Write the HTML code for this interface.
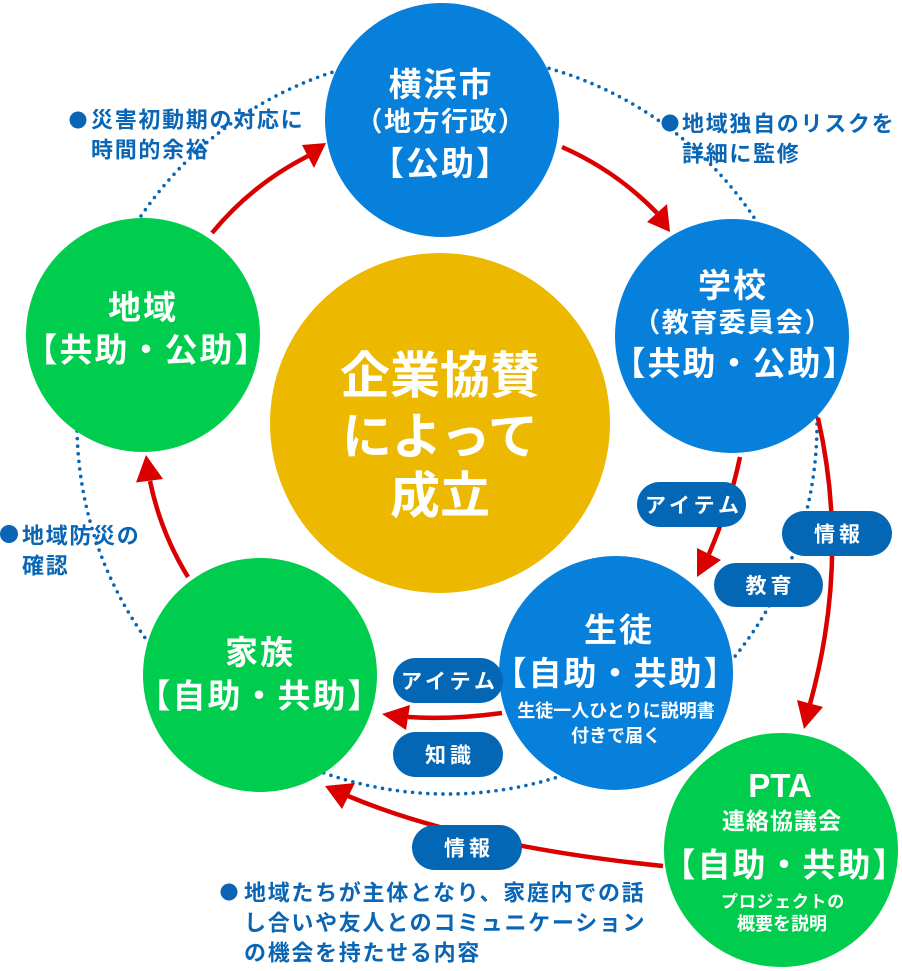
<!DOCTYPE html>
<html lang="ja">
<head>
<meta charset="utf-8">
<style>
  html,body{margin:0;padding:0;background:#fff;}
  body{width:902px;height:971px;overflow:hidden;}
  svg{display:block;}
  text{font-family:"Liberation Sans","Noto Sans CJK JP",sans-serif;font-weight:700;}
  .w{fill:#fff;}
  .b{fill:#0A66B4;}
</style>
</head>
<body>
<svg width="902" height="971" viewBox="0 0 902 971" xmlns="http://www.w3.org/2000/svg">
  <!-- dotted ring -->
  <circle cx="447" cy="424" r="370" fill="none" stroke="#0A66B4" stroke-width="3.6" stroke-linecap="round" stroke-dasharray="0 7.6"/>

  <!-- red connectors -->
  <g fill="none" stroke="#DA0000" stroke-width="4.5">
    <path d="M212,233 A300,300 0 0 1 308,156"/>
    <path d="M562,147 A300,300 0 0 1 657,213"/>
    <path d="M188,577 A298,298 0 0 1 150,481"/>
    <path d="M818,418 Q850,559 810,704"/>
    <path d="M740,457 Q730,505 709,554"/>
    <path d="M502,713 Q450,720 408,717"/>
    <path d="M663,866 Q467,846 348,796"/>
  </g>
  <g fill="#DA0000">
    <polygon points="326,143 302,145 314,168"/>
    <polygon points="670,232 647,222 667,204"/>
    <polygon points="146,455 163,479 136,482.5"/>
    <polygon points="804,729 797,700 823,707"/>
    <polygon points="697,577 697,548 721,560"/>
    <polygon points="382,714 410,705 406,730"/>
    <polygon points="325,786 355,783 342,809"/>
  </g>

  <!-- circles -->
  <circle cx="440" cy="423" r="170" fill="#EDB800"/>
  <circle cx="442" cy="120" r="117" fill="#0780DC"/>
  <circle cx="732" cy="336" r="117" fill="#0780DC"/>
  <circle cx="143" cy="335" r="117" fill="#00CC4D"/>
  <circle cx="260" cy="675" r="117" fill="#00CC4D"/>
  <circle cx="616" cy="673" r="117" fill="#0780DC"/>
  <circle cx="781" cy="850" r="117" fill="#00CC4D"/>

  <!-- center text -->
  <g class="w" text-anchor="middle" font-size="50">
    <text x="440" y="393">企業協賛</text>
    <text x="440" y="454">によって</text>
    <text x="440" y="513">成立</text>
  </g>

  <!-- Yokohama -->
  <g class="w" text-anchor="middle">
    <text x="441" y="96" font-size="33" letter-spacing="2">横浜市</text>
    <text x="441" y="131" font-size="27" letter-spacing="1.5">（地方行政）</text>
    <text x="441" y="175" font-size="33" letter-spacing="2">【公助】</text>
  </g>
  <!-- School -->
  <g class="w" text-anchor="middle">
    <text x="733" y="297" font-size="33" letter-spacing="2">学校</text>
    <text x="733" y="332" font-size="27" letter-spacing="1.5">（教育委員会）</text>
    <text x="735" y="375" font-size="33" letter-spacing="2">【共助・公助】</text>
  </g>
  <!-- Chiiki -->
  <g class="w" text-anchor="middle">
    <text x="143" y="319" font-size="33" letter-spacing="2">地域</text>
    <text x="147" y="361.5" font-size="33" letter-spacing="2">【共助・公助】</text>
  </g>
  <!-- Kazoku -->
  <g class="w" text-anchor="middle">
    <text x="260" y="664" font-size="33" letter-spacing="2">家族</text>
    <text x="260" y="707.5" font-size="33" letter-spacing="2">【自助・共助】</text>
  </g>
  <!-- Seito -->
  <g class="w" text-anchor="middle">
    <text x="619" y="641.5" font-size="33" letter-spacing="2">生徒</text>
    <text x="616" y="685" font-size="33" letter-spacing="2">【自助・共助】</text>
    <text x="616" y="717" font-size="18">生徒一人ひとりに説明書</text>
    <text x="616" y="742" font-size="18">付きで届く</text>
  </g>
  <!-- PTA -->
  <g class="w" text-anchor="middle">
    <text x="780" y="797" font-size="33">PTA</text>
    <text x="782" y="829" font-size="23" letter-spacing="1">連絡協議会</text>
    <text x="785" y="876.5" font-size="33" letter-spacing="2">【自助・共助】</text>
    <text x="783" y="907.5" font-size="17" letter-spacing="0.7">プロジェクトの</text>
    <text x="782" y="930" font-size="18">概要を説明</text>
  </g>

  <!-- pills -->
  <g fill="#0467B6">
    <rect x="637" y="482" width="109" height="45" rx="22.5"/>
    <rect x="782" y="511" width="110" height="45" rx="22.5"/>
    <rect x="714" y="563" width="109" height="44" rx="22"/>
    <rect x="393" y="658" width="110" height="45" rx="22.5"/>
    <rect x="393" y="732" width="110" height="45" rx="22.5"/>
    <rect x="412" y="825" width="110" height="45" rx="22.5"/>
  </g>
  <g class="w" text-anchor="middle" font-size="21" letter-spacing="4">
    <text x="694" y="512.5">アイテム</text>
    <text x="839" y="541.5">情報</text>
    <text x="770.5" y="593">教育</text>
    <text x="450" y="688.5">アイテム</text>
    <text x="450" y="762.5">知識</text>
    <text x="469" y="855.5">情報</text>
  </g>

  <!-- annotations -->
  <g fill="#0A66B4">
    <circle cx="78" cy="120" r="8.5"/>
    <circle cx="670" cy="123" r="8.5"/>
    <circle cx="9" cy="534" r="9"/>
    <circle cx="229" cy="892" r="8.5"/>
  </g>
  <g class="b" font-size="22" letter-spacing="1.7">
    <text x="91" y="127.5">災害初動期の対応に</text>
    <text x="91" y="157.5">時間的余裕</text>
    <text x="682" y="131.5">地域独自のリスクを</text>
    <text x="682" y="161.5">詳細に監修</text>
    <text x="22" y="543.5">地域防災の</text>
    <text x="22" y="573.5">確認</text>
    <text x="244" y="900.5">地域たちが主体となり、家庭内での話</text>
    <text x="244" y="930.5">し合いや友人とのコミュニケーション</text>
    <text x="244" y="960.5">の機会を持たせる内容</text>
  </g>
</svg>
</body>
</html>
